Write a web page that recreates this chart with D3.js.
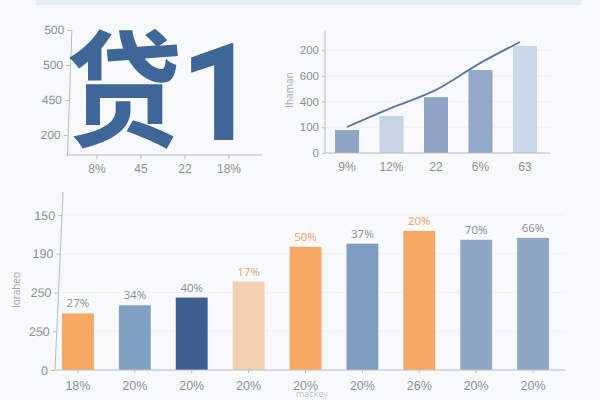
<!DOCTYPE html>
<html><head><meta charset="utf-8">
<script src="https://cdn.jsdelivr.net/npm/d3@7/dist/d3.min.js"></script>
<style>
html,body{margin:0;padding:0;background:#f8f9fa;}
svg{display:block;font-family:"Open Sans","DejaVu Sans",sans-serif;}
</style></head>
<body>
<svg id="c" width="600" height="400"></svg>
<script>
// ---- data ----
const tlCats = ["8%", "45", "22", "18%"];
const tlTicks = [1, 2, 3, 4];
const tlTickLabels = ["200", "450", "500", "500"];
const tlTitleA = "贷";
const tlTitleB = "1";

const trCats = ["9%", "12%", "22", "6%", "63"];
const trBars = [0.89, 1.44, 2.17, 3.22, 4.16];
const trLine = [1.01, 1.75, 2.45, 3.5, 4.31];
const trTicks = [0, 1, 2, 3, 4];
const trTickLabels = ["0", "100", "400", "600", "200"];
const trYLabel = "Ihaman";

const bCats = ["18%", "20%", "20%", "20%", "20%", "20%", "26%", "20%", "20%"];
const bVals = [1.46, 1.67, 1.87, 2.28, 3.18, 3.26, 3.59, 3.36, 3.41];
const bLabels = ["27%", "34%", "40%", "17%", "50%", "37%", "20%", "70%", "66%"];
const bTicks = [0, 1, 2, 3, 4];
const bTickLabels = ["0", "250", "250", "190", "150"];
const bYLabel = "Ioraheo";
const bXLabel = "mackey";

// ---- styles ----
const axisCol = "#b9bdc3", tickText = "#8b9097";
const trColors = ["#8fa5c3", "#c6d4e4", "#8ea4c3", "#93a8c6", "#c9d8e7"];
const bColors = ["#f5a862", "#7f9fc3", "#405f91", "#f2d0b0", "#f6a965", "#7f9dc1", "#f6a965", "#8ea7c7", "#8ea7c7"];
const bLabelCols = ["#8b9097", "#8b9097", "#8b9097", "#eea46a", "#eea46a", "#8b9097", "#eea46a", "#8b9097", "#8b9097"];

const svg = d3.select("#c");
svg.append("rect").attr("x", 36).attr("y", 0).attr("width", 545).attr("height", 5).attr("fill", "#e8eef5");

function styleAxis(g) {
  g.selectAll("path,line").attr("stroke", axisCol);
  g.selectAll("text").attr("fill", tickText);
}

// ---- top-left ----
{
  const x = d3.scaleBand().domain(d3.range(tlCats.length)).range([75, 251]);
  const y = d3.scaleLinear().domain([0.43, 4]).range([155, 30]);
  svg.append("g").attr("transform", "translate(0,155)")
    .call(d3.axisBottom(x).tickFormat(i => tlCats[i]).tickSizeOuter(0).tickSize(4))
    .call(g => g.select(".domain").attr("d", "M66,0H262"))
    .call(g => g.selectAll("text").attr("font-size", 12).attr("dy", "0.95em"))
    .call(styleAxis);
  svg.append("g").attr("transform", "translate(67,155) skewX(-2) translate(0,-155)")
    .call(d3.axisLeft(y).tickValues(tlTicks).tickFormat((d, i) => tlTickLabels[i]).tickSize(4).tickSizeOuter(0))
    .call(g => g.selectAll("text").attr("font-size", 12))
    .call(styleAxis);
  svg.append("text").attr("transform", "translate(66,137) scale(0.92,1)")
    .attr("font-family", "'Noto Sans CJK SC'").attr("font-weight", 700)
    .attr("font-size", 126).attr("fill", "#3e6698")
    .text(tlTitleA);
  svg.append("text").attr("x", 219).attr("y", 140).attr("text-anchor", "middle")
    .style("font-family", "Roboto, Inter, 'Liberation Sans', sans-serif").attr("font-weight", 700)
    .attr("font-size", 136).attr("fill", "#3e6698")
    .text(tlTitleB);
}

// ---- top-right ----
{
  const x = d3.scaleBand().domain(d3.range(trCats.length)).range([335, 537]).paddingInner(0.46).paddingOuter(0);
  const y = d3.scaleLinear().domain([0, 4]).range([153, 50]);
  svg.append("g").selectAll("line").data(trTicks.slice(1)).join("line")
    .attr("x1", 326).attr("x2", 550).attr("y1", d => y(d)).attr("y2", d => y(d))
    .attr("stroke", "#eef0f3");
  svg.append("g").selectAll("rect").data(trBars).join("rect")
    .attr("x", (d, i) => x(i)).attr("width", x.bandwidth())
    .attr("y", d => y(d)).attr("height", d => y(0) - y(d))
    .attr("fill", (d, i) => trColors[i]);
  svg.append("path").datum(trLine)
    .attr("d", d3.line().x((d, i) => x(i) + x.bandwidth() / 2 - (i === trLine.length - 1 ? 5 : 0)).y(d => y(d)).curve(d3.curveMonotoneX))
    .attr("fill", "none").attr("stroke", "#5b77a0").attr("stroke-width", 1.8);
  svg.append("g").attr("transform", "translate(0,153)")
    .call(d3.axisBottom(x).tickFormat(i => trCats[i]).tickSize(0).tickSizeOuter(0))
    .call(g => g.select(".domain").attr("d", "M325,0H550"))
    .call(g => g.selectAll("text").attr("font-size", 12).attr("dy", "1.25em"))
    .call(styleAxis);
  svg.append("g").attr("transform", "translate(325,0)")
    .call(d3.axisLeft(y).tickValues(trTicks).tickFormat((d, i) => trTickLabels[i]).tickSize(3).tickSizeOuter(0))
    .call(g => g.select(".domain").attr("d", "M0,30V153"))
    .call(g => g.selectAll("text").attr("font-size", 11.5))
    .call(styleAxis);
  svg.append("text").attr("transform", "translate(293,90) rotate(-90)")
    .attr("text-anchor", "middle").attr("font-size", 10).attr("fill", "#a4a8ae").text(trYLabel);
}

// ---- bottom ----
{
  const x = d3.scaleBand().domain(d3.range(bCats.length)).range([62, 549]).paddingInner(0.44).paddingOuter(0);
  const y = d3.scaleLinear().domain([0, 4]).range([370, 215]);
  svg.append("g").selectAll("line").data(bTicks.slice(1)).join("line")
    .attr("x1", 60).attr("x2", 565).attr("y1", d => y(d)).attr("y2", d => y(d))
    .attr("stroke", "#eff1f4");
  svg.append("g").selectAll("rect").data(bVals).join("rect")
    .attr("x", (d, i) => x(i)).attr("width", x.bandwidth())
    .attr("y", d => y(d)).attr("height", d => y(0) - y(d))
    .attr("fill", (d, i) => bColors[i]);
  svg.append("g").selectAll("text").data(bVals).join("text")
    .attr("x", (d, i) => x(i) + x.bandwidth() / 2).attr("y", d => y(d) - 6)
    .attr("text-anchor", "middle").attr("font-size", 11.5)
    .attr("fill", (d, i) => bLabelCols[i]).text((d, i) => bLabels[i]);
  svg.append("g").attr("transform", "translate(0,370)")
    .call(d3.axisBottom(x).tickFormat(i => bCats[i]).tickSize(3).tickSizeOuter(0))
    .call(g => g.select(".domain").attr("d", "M55,0H565"))
    .call(g => g.selectAll("text").attr("font-size", 12.5).attr("dy", "1.15em"))
    .call(styleAxis);
  svg.append("g").attr("transform", "translate(55,370) skewX(-2.6) translate(0,-370)")
    .call(d3.axisLeft(y).tickValues(bTicks).tickFormat((d, i) => bTickLabels[i]).tickSize(4).tickSizeOuter(0))
    .call(g => g.select(".domain").attr("d", "M0,192V370"))
    .call(g => g.selectAll("text").attr("font-size", 12.5))
    .call(styleAxis);
  svg.append("text").attr("transform", "translate(20,290) rotate(-90)")
    .attr("text-anchor", "middle").attr("font-size", 10).attr("fill", "#9ea3aa").text(bYLabel);
  svg.append("text").attr("x", 312).attr("y", 397)
    .attr("text-anchor", "middle").attr("font-size", 9).attr("fill", "#c0c4c9").text(bXLabel);
}
</script>
</body></html>
